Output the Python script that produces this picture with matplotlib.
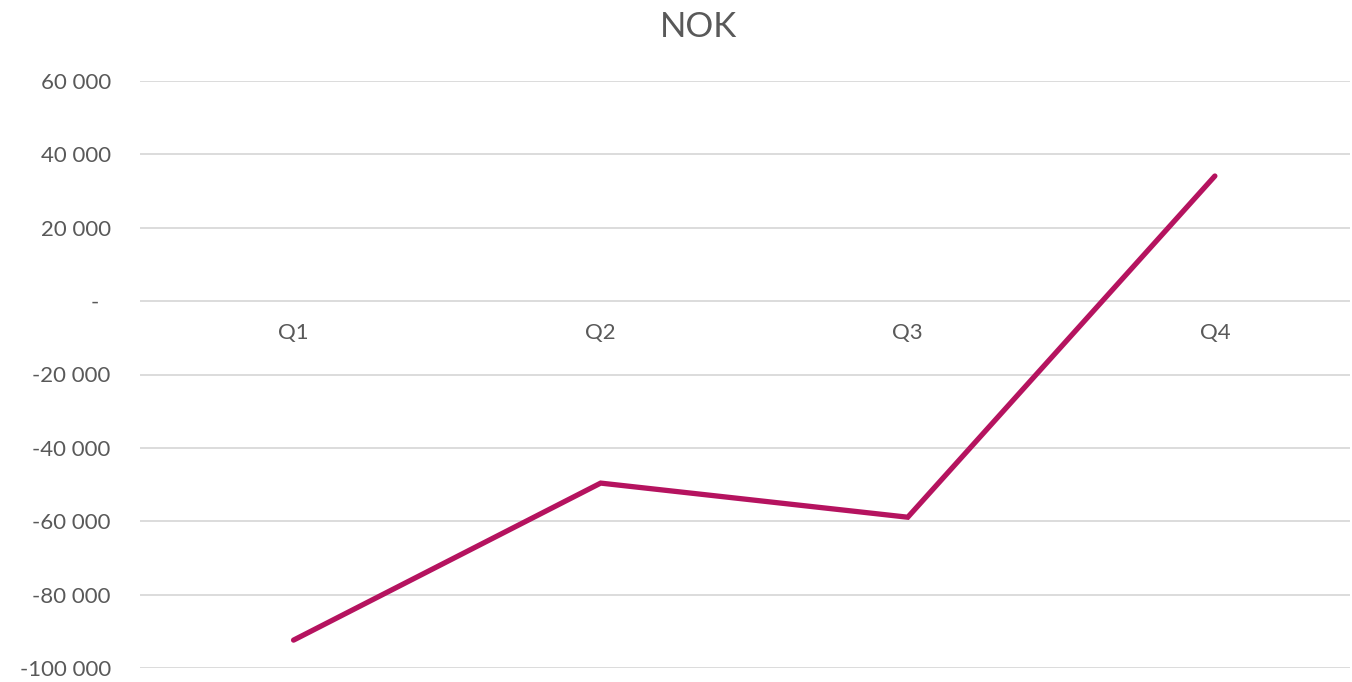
import matplotlib.pyplot as plt
from matplotlib.ticker import FuncFormatter

plt.rcParams['font.family'] = ['Lato', 'DejaVu Sans']

# Data
quarters = ['Q1', 'Q2', 'Q3', 'Q4']
values = [-92400, -49600, -58900, 34100]
yticks = [-100000, -80000, -60000, -40000, -20000, 0, 20000, 40000, 60000]

grey = '#595959'


def fmt(v, pos):
    if v == 0:
        return '-  '
    return f'{int(v):,}'.replace(',', ' ')


fig = plt.figure(figsize=(13.52, 6.82), dpi=100)
ax = fig.add_axes([140 / 1352, 1 - 668 / 682, 1210 / 1352, (668 - 81) / 682])

x = range(len(quarters))
ax.plot(x, values, color='#B5135F', linewidth=3.8, solid_capstyle='round',
        solid_joinstyle='miter')

ax.set_ylim(-100000, 60000)
ax.set_xlim(-0.5, 3.44)
ax.set_yticks(yticks)
ax.yaxis.set_major_formatter(FuncFormatter(fmt))
ax.grid(axis='y', color='#d9d9d9', linewidth=1.3)
ax.set_axisbelow(True)

ax.set_xticks(list(x))
ax.set_xticklabels(quarters)
ax.spines['bottom'].set_position(('data', 0))
for s in ax.spines.values():
    s.set_visible(False)

ax.tick_params(axis='y', length=0, pad=21, labelsize=16, labelcolor=grey)
ax.tick_params(axis='x', length=0, pad=16, labelsize=16, labelcolor=grey)

fig.text(699 / 1352, 1 - 27 / 682, 'NOK', ha='center', va='center',
         fontsize=25, color=grey)

plt.savefig('out.png')
